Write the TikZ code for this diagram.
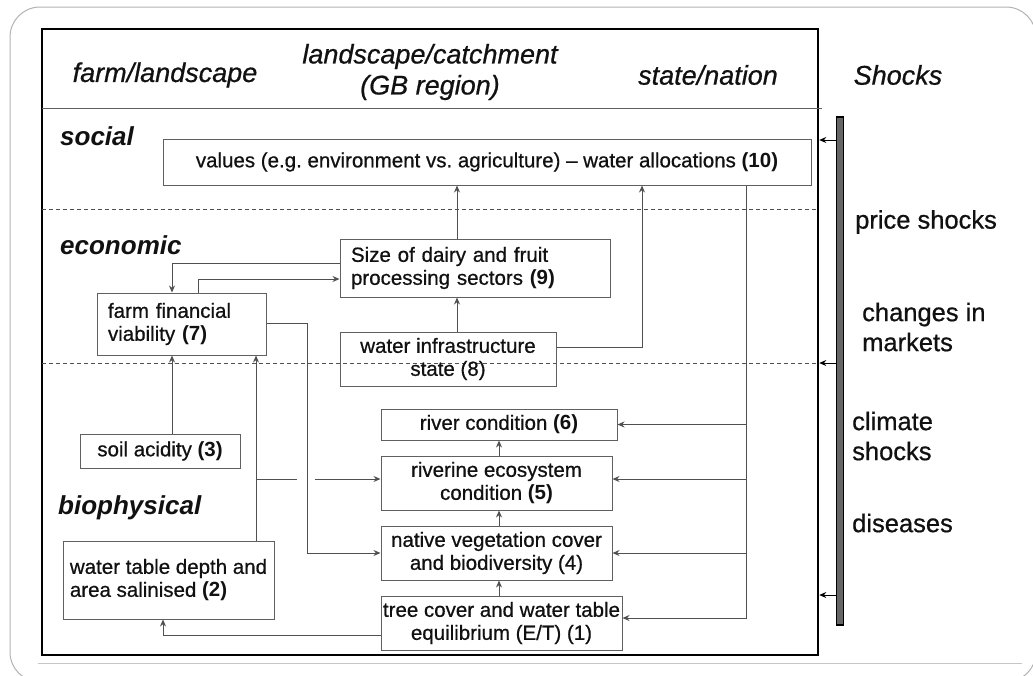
\documentclass[tikz,border=0pt]{standalone}
\usepackage{fontspec}
\setmainfont{Liberation Sans}[UprightFeatures={FakeBold=0.7}, ItalicFeatures={FakeBold=0.7}]
\usetikzlibrary{arrows.meta}
\definecolor{linegray}{HTML}{505050}
\definecolor{boxgray}{HTML}{606060}
\definecolor{txt}{HTML}{111111}
\frenchspacing
\begin{document}
\begin{tikzpicture}[x=1pt,y=-1pt,
  box/.style={draw=boxgray, line width=1pt, inner sep=0pt, text=txt, font=\fontsize{20.5}{23}\selectfont, align=center},
  lbox/.style={box, align=left, inner xsep=11pt},
  conn/.style={draw=linegray, line width=1pt},
  arr/.style={conn, -{Stealth[length=7pt,width=6pt]}},
  hdr/.style={font=\fontsize{27}{31}\selectfont\itshape, text=txt, align=center, inner sep=0pt},
  sec/.style={font=\fontsize{26}{30}\selectfont\bfseries\itshape, text=txt, anchor=west, inner sep=0pt},
  shk/.style={font=\fontsize{25.5}{30}\selectfont, text=txt, anchor=west, align=left, inner sep=0pt}]
\useasboundingbox (0,0) rectangle (1033,675);
% slide frame
\draw[gray!60, line width=1pt, rounded corners=30pt] (10,7) rectangle (1036,682);
\draw[gray!45, line width=1pt] (38,663) -- (1022,663);
% main frame
\node[draw=black, line width=2.5pt, minimum width=776, minimum height=626, inner sep=0pt] (frame) at (430,342) {};
\draw[boxgray, line width=1pt] (42,108) -- (822,108);
\draw[linegray, line width=0.9pt, dash pattern=on 4pt off 3pt] (42,209) -- (818,209);
\draw[linegray, line width=0.9pt, dash pattern=on 4pt off 3pt] (42,363) -- (818,363);
% headers
\node[hdr] (h1) at (165,75) {farm/landscape};
\node[hdr] (h2) at (430,72) {landscape/catchment\\(GB region)};
\node[hdr] (h3) at (708,75) {state/nation};
\node[hdr] (h4) at (898,75) {Shocks};
% section labels
\node[sec] (s1) at (60,136) {social};
\node[sec] (s2) at (60,245) {economic};
\node[sec] (s3) at (58,508) {biophysical};
% shocks bar and labels
\node[draw=black, fill=gray!80!black, line width=1.6pt, minimum width=7, minimum height=508, inner sep=0pt] (bar) at (840,371) {};
\node[shk] (k1) at (855,222) {price shocks};
\node[shk] (k2) at (862,327) {changes in\\markets};
\node[shk] (k3) at (852,436) {climate\\shocks};
\node[shk] (k4) at (852,523) {diseases};
\coordinate (sy1) at (0,140);
\coordinate (sy2) at (0,363);
\coordinate (sy3) at (0,595);
\draw[arr, draw=black] (bar.west |- sy1) -- (frame.east |- sy1);
\draw[arr, draw=black] (bar.west |- sy2) -- (frame.east |- sy2);
\draw[arr, draw=black] (bar.west |- sy3) -- (frame.east |- sy3);
% boxes
\node[box, minimum width=648, minimum height=46] (n10) at (487,162) {values (e.g. environment vs. agriculture) – water allocations \textbf{(10)}};
\node[lbox, text width=248, minimum height=58] (n9) at (475,268) {Size of dairy and fruit\\processing sectors \textbf{(9)}};
\node[box, minimum width=216, minimum height=54] (n8) at (448,359) {water infrastructure\\state (8)};
\node[lbox, text width=147, minimum height=62] (n7) at (181.5,324) {farm financial\\viability \textbf{(7)}};
\node[box, minimum width=160, minimum height=34] (n3) at (160,451) {soil acidity \textbf{(3)}};
\node[box, align=left, minimum width=211, minimum height=78] (n2) at (168.5,580) {water table depth and\\area salinised \textbf{(2)}};
\node[box, minimum width=236, minimum height=31] (n6) at (499,424.5) {river condition \textbf{(6)}};
\node[box, minimum width=231, minimum height=54] (n5) at (496.5,483) {riverine ecosystem\\condition \textbf{(5)}};
\node[box, minimum width=231, minimum height=54] (n4) at (496.5,553) {native vegetation cover\\and biodiversity (4)};
\node[box, minimum width=241, minimum height=54] (n1) at (501.5,623) {tree cover and water table\\equilibrium (E/T) (1)};
% helper coordinates
\coordinate (xA) at (457,0);
\coordinate (xB) at (642,347);
\coordinate (xR) at (746,0);
\coordinate (x172) at (172,263);
\coordinate (x198) at (198,279);
\coordinate (x307) at (307,323);
\coordinate (x256) at (256,479);
\coordinate (x163) at (163,635);
\coordinate (x499) at (499,0);
\coordinate (g1) at (297,479);
\coordinate (g2) at (315,479);
\coordinate (y618) at (0,618);
\coordinate (y479) at (0,479);
% connectors
\draw[arr] (n9.north -| xA) -- (n10.south -| xA);
\draw[arr] (n8.north -| xA) -- (n9.south -| xA);
\draw[arr] (n8.east |- xB) -| (n10.south -| xB);
\draw[arr] (n10.south -| xR) |- (n1.east |- y618);
\draw[arr] (xR |- n6.east) -- (n6.east);
\draw[arr] (xR |- y479) -- (n5.east |- y479);
\draw[arr] (xR |- n4.east) -- (n4.east);
\draw[arr] (n9.west |- x172) -| (n7.north -| x172);
\draw[arr] (n7.north -| x198) |- (n9.west |- x198);
\draw[arr] (n7.east |- x307) -| (x307 |- n4.west) -- (n4.west);
\draw[arr] (n3.north -| x172) -- (n7.south -| x172);
\draw[arr] (n2.north -| x256) -- (n7.south -| x256);
\draw[conn] (x256) -- (g1);
\draw[arr] (g2) -- (n5.west |- g2);
\draw[arr] (n1.west |- x163) -| (n2.south -| x163);
\draw[arr] (n1.north -| x499) -- (n4.south -| x499);
\draw[arr] (n4.north -| x499) -- (n5.south -| x499);
\draw[arr] (n5.north -| x499) -- (n6.south -| x499);
\end{tikzpicture}
\end{document}
